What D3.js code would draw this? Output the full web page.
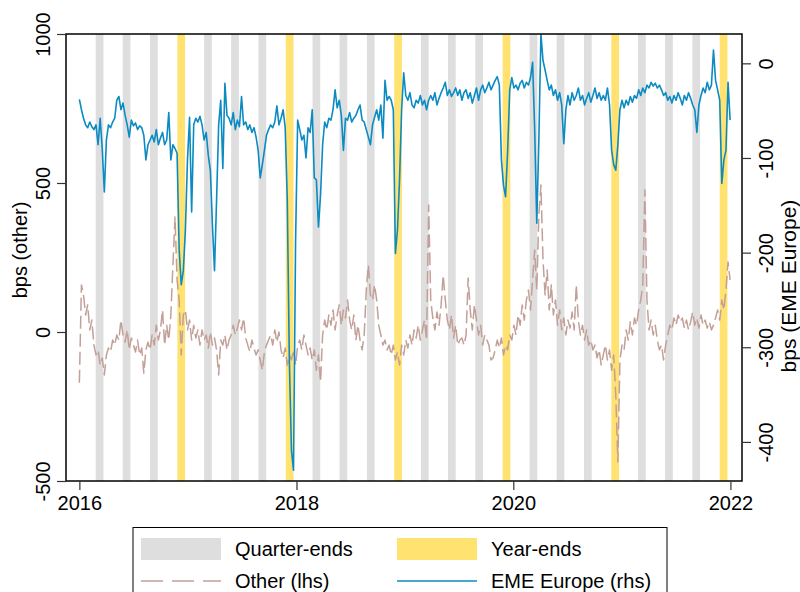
<!DOCTYPE html>
<html>
<head>
<meta charset="utf-8">
<script src="https://cdn.jsdelivr.net/npm/d3@7"></script>
<style>
  body { margin: 0; background: #fff; }
  svg { display: block; }
  text { font-family: "Liberation Sans", Arial, sans-serif; fill: #000; }
</style>
</head>
<body>
<svg id="chart" width="800" height="592"></svg>
<script>
// Weekly observations starting on this date
const startDate = "2016-01-01";
const stepDays = 7;

// EME Europe, bps (right-hand axis)
const emeEurope = [
  -38, -49, -58, -65, -68, -62, -67, -70, -65, -86,
  -58, -90, -136, -81, -65, -68, -62, -58, -39, -35,
  -49, -42, -55, -65, -78, -60, -66, -63, -70, -66,
  -68, -76, -102, -86, -81, -76, -83, -70, -86, -79,
  -73, -86, -81, -52, -102, -86, -90, -95, -197, -234,
  -219, -176, -102, -57, -157, -65, -58, -62, -56, -65,
  -81, -73, -97, -113, -171, -219, -144, -65, -39, -111,
  -21, -55, -58, -65, -52, -70, -60, -67, -35, -65,
  -62, -70, -65, -73, -68, -78, -92, -121, -107, -92,
  -76, -70, -65, -68, -62, -45, -65, -58, -49, -68,
  -144, -314, -409, -430, -187, -60, -70, -81, -76, -100,
  -68, -73, -49, -121, -123, -173, -139, -86, -62, -68,
  -58, -60, -49, -28, -47, -39, -55, -92, -58, -60,
  -52, -62, -58, -55, -49, -44, -60, -62, -70, -78,
  -86, -65, -57, -49, -60, -44, -79, -18, -39, -35,
  -39, -49, -201, -176, -123, -49, -10, -34, -39, -31,
  -44, -47, -39, -42, -34, -44, -39, -49, -39, -34,
  -39, -31, -44, -37, -31, -26, -20, -34, -28, -35,
  -31, -26, -34, -28, -39, -31, -28, -37, -31, -42,
  -34, -26, -39, -28, -23, -31, -26, -20, -28, -23,
  -18, -14, -23, -102, -129, -141, -92, -28, -15, -26,
  -23, -28, -21, -18, -26, -20, -23, -15, 1, -70,
  -169, -81, 31, 3, -7, -18, -28, -23, -34, -28,
  -39, -31, -44, -85, -49, -34, -44, -31, -39, -34,
  -26, -39, -34, -44, -37, -31, -41, -34, -26, -37,
  -31, -39, -34, -39, -26, -44, -92, -107, -113, -86,
  -49, -39, -47, -39, -44, -35, -41, -34, -37, -28,
  -34, -26, -31, -23, -26, -20, -24, -21, -26, -23,
  -28, -34, -31, -39, -35, -42, -34, -39, -31, -37,
  -44, -34, -39, -31, -37, -44, -49, -73, -44, -34,
  -26, -31, -20, -28, -23, 14, -18, -28, -39, -127,
  -102, -92, -20, -60
];

// Other, bps (left-hand axis)
const other = [
  -170, 158, 124, 57, 91, 7, 40, -44, -77, -60,
  -111, -87, -144, -77, -54, -67, -27, -44, -10, -27,
  40, -10, -34, 7, -60, -20, -44, -67, -27, -77,
  -54, -138, -60, -34, -60, -10, -44, 23, -27, 7,
  74, -44, 23, -27, 57, 225, 386, 175, 107, -77,
  57, 74, 7, 40, -27, 23, -20, 7, -44, 7,
  -27, -10, -54, 0, -44, -20, -60, -144, -27, -44,
  -10, -60, -27, -10, 23, -10, 13, 40, 7, 47,
  -20, -44, -67, -27, -54, -77, -60, -94, -128, -67,
  -44, -27, -10, -44, 7, -34, 0, -60, -87, -54,
  -111, -77, -94, -60, -111, -44, -27, -60, -10, -44,
  -77, -54, -94, -60, -128, -77, -168, -10, 40, 7,
  57, 23, 74, 7, 57, 91, 23, 74, 47, 107,
  40, 7, 57, -27, 23, -27, -60, -10, 141, 225,
  124, 107, 158, 107, 23, -10, -44, -27, -60, -44,
  -77, -44, -94, -67, -111, -44, -77, -27, -54, -10,
  -44, 7, -20, 23, -27, 7, 40, -27, 426, 107,
  47, 7, 67, 23, 91, 191, 107, 40, 7, 57,
  -20, 23, -44, -27, -20, -44, -10, 181, 74, 7,
  91, 40, -10, 23, -44, -10, -27, -44, -94, -87,
  -60, -27, -54, -20, -77, -44, -60, -10, -27, 23,
  -10, 57, 23, 91, 40, 107, 141, 74, 175, 275,
  141, 393, 493, 242, 124, 208, 74, 158, 57, 107,
  23, 74, 7, 47, -10, 40, 13, 67, 7, 158,
  40, -10, 23, -27, 7, -44, -27, -60, -44, -87,
  -60, -111, -77, -44, -94, -60, -128, -77, -211, -436,
  -94, -44, -60, 7, -27, 34, -10, 47, 23, 74,
  107, 158, 477, 107, 7, 40, -10, 23, -27, -60,
  -44, -94, -44, -10, 23, 7, 47, 23, 57, 34,
  47, 13, 40, 7, 34, 67, 23, 47, 13, 57,
  23, 40, 13, 34, 7, 23, 47, 74, 40, 107,
  74, 141, 235, 175
];

// Quarter-end and year-end dates marked by shaded windows
const quarterEnds = [
  "2016-03-31", "2016-06-30", "2016-09-30",
  "2017-03-31", "2017-06-30", "2017-09-30",
  "2018-03-31", "2018-06-30", "2018-09-30",
  "2019-03-31", "2019-06-30", "2019-09-30",
  "2020-03-31", "2020-06-30", "2020-09-30",
  "2021-03-31", "2021-06-30", "2021-09-30"
];
const yearEnds = ["2016-12-31", "2017-12-31", "2018-12-31", "2019-12-31", "2020-12-31", "2021-12-31"];

const xTickYears = [2016, 2018, 2020, 2022];
const leftTicks = [-500, 0, 500, 1000];
const rightTicks = [0, -100, -200, -300, -400];

// Window shaded before each period end (days)
const windowOpen = 35, windowClose = 9;

const parse = d3.timeParse("%Y-%m-%d");
const plot = { left: 66, right: 742, top: 34, bottom: 481 };
const plainNumber = d => String(d);

const svg = d3.select("#chart");

const x = d3.scaleTime()
  .domain([new Date(2015, 10, 17), new Date(2022, 1, 9)])
  .range([plot.left, plot.right]);
const yL = d3.scaleLinear().domain([-500, 1000]).range([plot.bottom, plot.top]);
const yR = d3.scaleLinear().domain([-441.3, 31]).range([plot.bottom, plot.top]);

const t0 = parse(startDate);
const dates = emeEurope.map((_, i) => d3.timeDay.offset(t0, i * stepDays));

// Shaded windows
function drawWindows(list, color) {
  svg.append("g").selectAll("rect").data(list).join("rect")
    .attr("x", d => x(d3.timeDay.offset(parse(d), -windowOpen)))
    .attr("width", d => x(d3.timeDay.offset(parse(d), -windowClose)) - x(d3.timeDay.offset(parse(d), -windowOpen)))
    .attr("y", plot.top)
    .attr("height", plot.bottom - plot.top)
    .attr("fill", color);
}
drawWindows(quarterEnds, "#dedede");
drawWindows(yearEnds, "#ffe26f");

svg.append("clipPath").attr("id", "clip")
  .append("rect")
  .attr("x", plot.left).attr("y", plot.top)
  .attr("width", plot.right - plot.left).attr("height", plot.bottom - plot.top);

const lineOther = d3.line().x((d, i) => x(dates[i])).y(d => yL(d));
const lineEme = d3.line().x((d, i) => x(dates[i])).y(d => yR(d));

const lines = svg.append("g").attr("clip-path", "url(#clip)");
lines.append("path").datum(other)
  .attr("d", lineOther)
  .attr("fill", "none")
  .attr("stroke", "#c2a098")
  .attr("stroke-width", 1.5)
  .attr("stroke-dasharray", "13,5")
  .attr("stroke-linejoin", "round");
lines.append("path").datum(emeEurope)
  .attr("d", lineEme)
  .attr("fill", "none")
  .attr("stroke", "#0b8bc2")
  .attr("stroke-width", 1.6)
  .attr("stroke-linejoin", "round");

// Frame
svg.append("rect")
  .attr("x", plot.left).attr("y", plot.top)
  .attr("width", plot.right - plot.left).attr("height", plot.bottom - plot.top)
  .attr("fill", "none").attr("stroke", "#000").attr("stroke-width", 1.5);

function styleAxis(g) {
  g.select(".domain").remove();
  g.selectAll(".tick line").attr("stroke", "#333").attr("stroke-width", 1.2);
  g.selectAll(".tick text").attr("font-size", 20).attr("fill", "#000")
    .style("font-family", "'Liberation Sans', Arial, sans-serif");
}

// Bottom axis
const gx = svg.append("g").attr("transform", `translate(0,${plot.bottom})`)
  .call(d3.axisBottom(x).tickValues(xTickYears.map(y => new Date(y, 0, 1)))
    .tickFormat(d3.timeFormat("%Y")).tickSize(9));
styleAxis(gx);
gx.selectAll(".tick text").attr("y", 29).attr("dy", 0);

// Left axis
const gl = svg.append("g").attr("transform", `translate(${plot.left},0)`)
  .call(d3.axisLeft(yL).tickValues(leftTicks).tickFormat(plainNumber).tickSize(9));
styleAxis(gl);
gl.selectAll(".tick text")
  .attr("transform", "rotate(-90)")
  .attr("x", 0).attr("y", -16).attr("dy", 0)
  .attr("text-anchor", "middle");

// Right axis
const gr = svg.append("g").attr("transform", `translate(${plot.right},0)`)
  .call(d3.axisRight(yR).tickValues(rightTicks).tickFormat(plainNumber).tickSize(9));
styleAxis(gr);
gr.selectAll(".tick text")
  .attr("transform", "rotate(-90)")
  .attr("x", 0).attr("y", 31).attr("dy", 0)
  .attr("text-anchor", "middle");

// Axis titles
svg.append("text")
  .attr("transform", "translate(27,250) rotate(-90)")
  .attr("text-anchor", "middle").attr("font-size", 20)
  .text("bps (other)");
svg.append("text")
  .attr("transform", "translate(796,286) rotate(-90)")
  .attr("text-anchor", "middle").attr("font-size", 21)
  .text("bps (EME Europe)");

// Legend
const lg = svg.append("g");
lg.append("rect").attr("x", 133).attr("y", 527.5).attr("width", 534).attr("height", 80)
  .attr("fill", "#fff").attr("stroke", "#000").attr("stroke-width", 1);
const keys = [
  { label: "Quarter-ends", type: "rect", color: "#dedede", col: 0, row: 0 },
  { label: "Year-ends", type: "rect", color: "#ffe26f", col: 1, row: 0 },
  { label: "Other (lhs)", type: "dash", color: "#c2a098", col: 0, row: 1 },
  { label: "EME Europe (rhs)", type: "line", color: "#0b8bc2", col: 1, row: 1 }
];
const colX = [141, 397], rowY = [549, 581];
keys.forEach(k => {
  const kx = colX[k.col], ky = rowY[k.row];
  if (k.type === "rect") {
    lg.append("rect").attr("x", kx).attr("y", ky - 11).attr("width", 80).attr("height", 22).attr("fill", k.color);
  } else {
    lg.append("line").attr("x1", kx).attr("x2", kx + 80).attr("y1", ky).attr("y2", ky)
      .attr("stroke", k.color).attr("stroke-width", 1.6)
      .attr("stroke-dasharray", k.type === "dash" ? "22,9" : null);
  }
  lg.append("text").attr("x", kx + 94).attr("y", ky).attr("dy", "0.35em")
    .attr("font-size", 20).text(k.label);
});
</script>
</body>
</html>
